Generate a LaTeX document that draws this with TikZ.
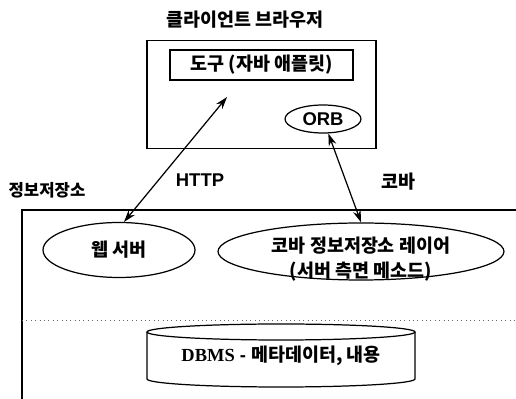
\documentclass[tikz,border=0pt]{standalone}
\usepackage{fontspec}
\setmainfont{Liberation Sans}
\newfontfamily\kr{Noto Sans CJK KR}
\newfontfamily\dbfont{Liberation Serif}
\usetikzlibrary{shapes.geometric,arrows.meta}

\begin{document}
\begin{tikzpicture}[scale=0.02]
\tikzstyle{every node}+=[inner sep=0pt, font=\fontsize{10.5}{12}\selectfont\bfseries]
\tikzstyle{frame}=[draw=black, line width=0.9pt]
\tikzstyle{oval}=[draw=black, ellipse, line width=0.7pt]
\tikzstyle{link}=[black, line width=0.7pt, {Stealth[length=7pt,width=4.5pt]}-{Stealth[length=7pt,width=4.5pt]}]
\useasboundingbox (0,0) rectangle (516,-399);
% client side
\node (clienttitle) at (245,-20) {\kr 클라이언트 브라우저};
\node [frame, minimum width=4.58cm, minimum height=2.16cm] (browser) at (261.5,-94.5) {};
\node [frame, minimum width=3.66cm, minimum height=0.6cm] (tool) at (261.5,-65) {\kr 도구 (자바 애플릿)};
\node [oval, minimum width=1.52cm, minimum height=0.56cm] (orb) at (323,-119) {ORB};
\coordinate (httpend) at (227,-97);
% repository side
\node [font=\fontsize{9.5}{11}\selectfont\bfseries] (repotitle) at (47,-190) {\kr 정보저장소};
\draw [black, line width=0.9pt] (520,-210) -| (22,-402);
\draw [black!60, dotted, line width=0.5pt] (22,-320) -- (516,-320);
\node [oval, minimum width=3.04cm, minimum height=1.1cm] (web) at (119,-250) {\kr 웹 서버};
\node [oval, minimum width=5.72cm, minimum height=1.14cm] (layer) at (361,-251.5) {};
\node [align=center] (layertext) at (361,-259) {\kr 코바 정보저장소 레이어\\[2pt]\kr (서버 측면 메소드)};
% database drum
\coordinate (dbms) at (281,-356);
\draw [black, line width=0.7pt] (281,-332) ellipse (134 and 8);
\draw [black, line width=0.7pt] (147,-332) -- (147,-379) arc (180:360:134 and 8) -- (415,-332);
\node (dbmstext) at (dbms) {{\dbfont DBMS} - \kr 메타데이터, 내용};
% connections
\draw [link] (httpend) -- (web.80);
\node (http) at (200,-180) {HTTP};
\draw [link] (orb.-70) -- (layer.north);
\node (corba) at (398,-182) {\kr 코바};
\end{tikzpicture}
\end{document}
